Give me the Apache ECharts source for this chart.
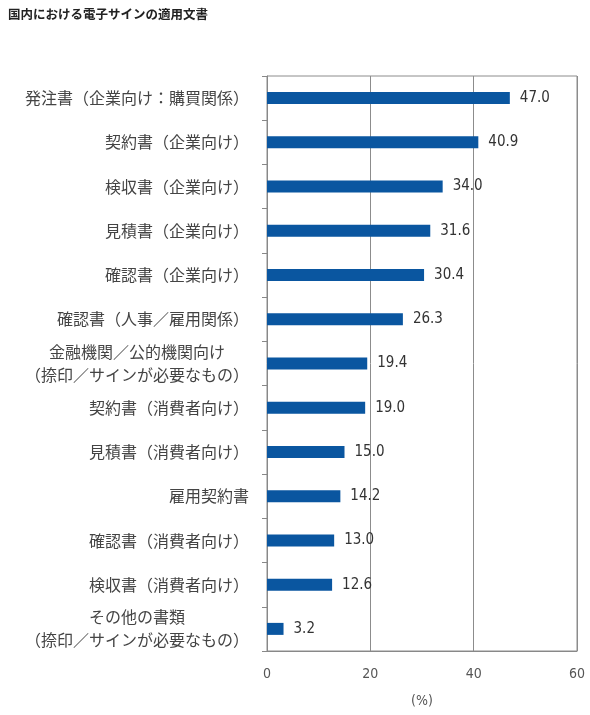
<!DOCTYPE html>
<html>
<head>
<meta charset="utf-8">
<script src="https://cdn.jsdelivr.net/npm/echarts@6/dist/echarts.min.js"></script>
<style>
  html, body { margin: 0; padding: 0; background: #fff; }
  #chart { width: 590px; height: 715px; }
</style>
</head>
<body>
<div id="chart"></div>
<script>
// 上から順に
const categories = [
  '発注書（企業向け：購買関係）',
  '契約書（企業向け）',
  '検収書（企業向け）',
  '見積書（企業向け）',
  '確認書（企業向け）',
  '確認書（人事／雇用関係）',
  '金融機関／公的機関向け\n（捺印／サインが必要なもの）',
  '契約書（消費者向け）',
  '見積書（消費者向け）',
  '雇用契約書',
  '確認書（消費者向け）',
  '検収書（消費者向け）',
  'その他の書類\n（捺印／サインが必要なもの）'
];
const values = [47.0, 40.9, 34.0, 31.6, 30.4, 26.3, 19.4, 19.0, 15.0, 14.2, 13.0, 12.6, 3.2];
const xTicks = [0, 20, 40, 60];

const FONT = '"Noto Sans CJK JP", sans-serif';
const NUM_FONT = '"DejaVu Sans Condensed", "DejaVu Sans", sans-serif';

function formatCategory(name) {
  if (name.indexOf('\n') < 0) return name;
  // 2行のラベルは中央揃え
  return name.split('\n').map(s => '{c|' + s + '}').join('\n');
}

const chart = echarts.init(document.getElementById('chart'));
chart.setOption({
  animation: false,
  textStyle: { fontFamily: FONT },
  title: {
    text: '国内における電子サインの適用文書',
    left: 3,
    top: 3,
    textStyle: { fontSize: 12.5, fontWeight: 'bold', color: '#222', fontFamily: FONT }
  },
  grid: { left: 267, right: 13, top: 76, bottom: 64, containLabel: false },
  xAxis: {
    type: 'value',
    min: xTicks[0],
    max: xTicks[xTicks.length - 1],
    interval: 20,
    name: '(%)',
    nameLocation: 'middle',
    nameGap: 43,
    nameTextStyle: { fontSize: 14, color: '#555', fontFamily: NUM_FONT },
    axisLine: { show: true, lineStyle: { color: '#888' } },
    axisTick: { show: false },
    axisLabel: { fontSize: 14, color: '#555', margin: 16, fontFamily: NUM_FONT },
    splitLine: { show: true, lineStyle: { color: '#8c8c8c', width: 1 } }
  },
  yAxis: {
    type: 'category',
    inverse: true,
    data: categories,
    axisLine: { show: true, lineStyle: { color: '#888' } },
    axisTick: { show: true, length: 5, inside: false, lineStyle: { color: '#888' } },
    axisLabel: {
      fontSize: 16,
      color: '#444',
      margin: 18,
      lineHeight: 23,
      formatter: formatCategory,
      rich: {
        c: { width: 224, align: 'center', fontSize: 16, color: '#444', lineHeight: 23 }
      }
    },
    splitLine: { show: false }
  },
  series: [{
    type: 'bar',
    data: values,
    barWidth: 12,
    itemStyle: { color: '#0a56a0' },
    label: {
      show: true,
      position: 'right',
      distance: 10,
      fontSize: 15,
      color: '#333',
      fontFamily: NUM_FONT,
      formatter: p => p.value.toFixed(1)
    }
  }],
  graphic: [{
    type: 'rect',
    shape: { x: 267, y: 76, width: 310, height: 575 },
    style: { fill: 'none', stroke: '#8c8c8c', lineWidth: 1 },
    silent: true
  }]
});
</script>
</body>
</html>
